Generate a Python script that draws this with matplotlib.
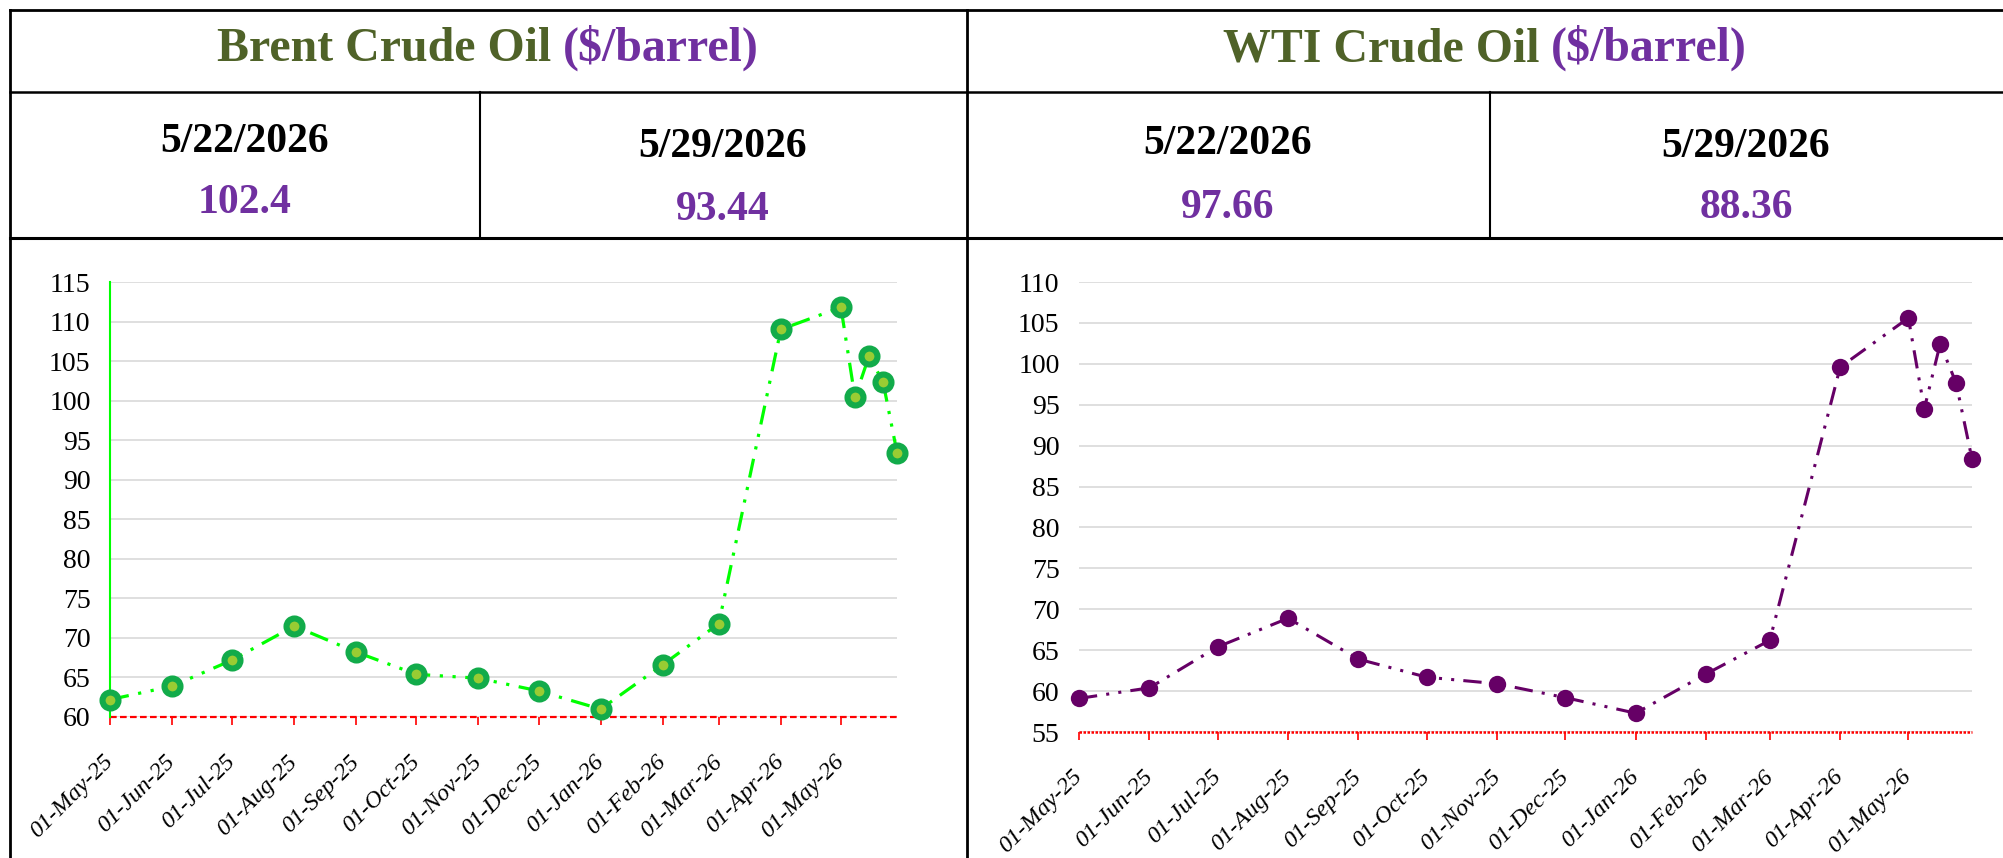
import matplotlib
matplotlib.use("Agg")
import matplotlib.pyplot as plt
import matplotlib.dates as mdates
from matplotlib.lines import Line2D
import pandas as pd

plt.rcParams['font.family'] = ['Liberation Serif', 'DejaVu Serif']

# data
dates = pd.to_datetime([
    "2025-05-01", "2025-06-01", "2025-07-01", "2025-08-01", "2025-09-01",
    "2025-10-01", "2025-11-01", "2025-12-01", "2026-01-01", "2026-02-01",
    "2026-03-01", "2026-04-01", "2026-05-01", "2026-05-08", "2026-05-15",
    "2026-05-22", "2026-05-29",
])
brent = [62.2, 63.9, 67.2, 71.5, 68.2, 65.4, 64.9, 63.3, 61.0, 66.6,
         71.8, 109.0, 111.8, 100.4, 105.6, 102.4, 93.44]
wti = [59.1, 60.4, 65.4, 68.9, 63.9, 61.7, 60.9, 59.2, 57.3, 62.1,
       66.2, 99.6, 105.6, 94.5, 102.45, 97.66, 88.36]

tick_dates = pd.date_range("2025-05-01", "2026-05-01", freq="MS")

header_dates = ["5/22/2026", "5/29/2026"]
brent_vals = ["102.4", "93.44"]
wti_vals = ["97.66", "88.36"]

W, H = 2003, 858
fig = plt.figure(figsize=(W / 100, H / 100), dpi=100)
fig.patch.set_facecolor("white")

def fx(x):
    return x / W

def fy(y):
    return 1 - y / H

def hline(y, x0, x1, lw=2.0):
    fig.add_artist(Line2D([fx(x0), fx(x1)], [fy(y), fy(y)], color="black", lw=lw,
                          transform=fig.transFigure))

def vline(x, y0, y1, lw=2.0):
    fig.add_artist(Line2D([fx(x), fx(x)], [fy(y0), fy(y1)], color="black", lw=lw,
                          transform=fig.transFigure))

# table frame
hline(10, 10, W, 2.0)
hline(92, 10, W, 1.8)
hline(238, 10, W, 2.2)
vline(10, 10, H, 2.0)
vline(967, 10, H, 2.0)
vline(480, 92, 238, 1.5)
vline(1490, 92, 238, 1.5)

OLIVE = "#4F6228"
PURPLE = "#7030A0"

renderer = fig.canvas.get_renderer()

def two_color_title(cx, base, left, right):
    t1 = fig.text(0, fy(base), left, color=OLIVE, fontsize=34.5, fontweight="bold",
                  va="baseline", ha="left")
    t2 = fig.text(0, fy(base), right, color=PURPLE, fontsize=34.5, fontweight="bold",
                  va="baseline", ha="left")
    w1 = t1.get_window_extent(renderer).width
    w2 = t2.get_window_extent(renderer).width
    gap = 12
    x0 = cx - (w1 + gap + w2) / 2
    t1.set_x(fx(x0))
    t2.set_x(fx(x0 + w1 + gap))

two_color_title(488, 61, "Brent Crude Oil", "($/barrel)")
two_color_title(1485, 61, "WTI Crude Oil", "($/barrel)")

def cell(cx, yd, yv, d, v):
    fig.text(fx(cx), fy(yd), d, fontsize=30, fontweight="bold", color="black",
             ha="center", va="baseline")
    fig.text(fx(cx), fy(yv), v, fontsize=30, fontweight="bold", color=PURPLE,
             ha="center", va="baseline")

cell(245, 152, 213, header_dates[0], brent_vals[0])
cell(723, 157, 220, header_dates[1], brent_vals[1])
cell(1228, 154, 218, header_dates[0], wti_vals[0])
cell(1746, 157, 218, header_dates[1], wti_vals[1])

ls_dd = (0, (6, 3, 1, 3, 1, 3))

def setup_axes(ax, ymin, ymax):
    ax.set_xlim(dates[0], dates[-1])
    ax.set_ylim(ymin, ymax)
    ax.set_yticks(range(ymin, ymax + 1, 5))
    ax.set_xticks(tick_dates)
    ax.xaxis.set_major_formatter(mdates.DateFormatter("%d-%b-%y"))
    ax.yaxis.grid(True, color="#D9D9D9", lw=1.2)
    ax.set_axisbelow(True)
    for s in ["top", "right", "bottom", "left"]:
        ax.spines[s].set_visible(False)
    ax.tick_params(axis="y", length=0, pad=14, labelsize=20)
    ax.tick_params(axis="x", length=6, width=1.2, color="red", labelcolor="black",
                   pad=24, labelsize=17.5)
    for lab in ax.get_xticklabels():
        lab.set_rotation(45)
        lab.set_ha("right")
        lab.set_va("center")
        lab.set_rotation_mode("anchor")
        lab.set_fontstyle("italic")

# Brent
ax1 = fig.add_axes([fx(110), fy(717), (897 - 110) / W, (717 - 282) / H])
setup_axes(ax1, 60, 115)
ax1.spines["left"].set_visible(True)
ax1.spines["left"].set_color("#00FF00")
ax1.spines["left"].set_linewidth(1.5)
ax1.axhline(60, color="red", ls=(0, (3, 1.5)), lw=1.6, clip_on=False)
ax1.plot(dates, brent, color="#00FF00", lw=2.3, ls=ls_dd, marker="o", ms=11.5,
         mew=4.4, mec="#12AB4A", mfc="#99CC33", clip_on=False, zorder=5)

# WTI
ax2 = fig.add_axes([fx(1079), fy(732), (1972 - 1079) / W, (732 - 282) / H])
setup_axes(ax2, 55, 110)
ax2.axhline(55, color="red", ls=(0, (1, 0.6)), lw=1.8, clip_on=False)
ax2.plot(dates, wti, color="#660066", lw=2.2, ls=ls_dd, marker="o", ms=12.5,
         mew=0, mfc="#660066", clip_on=False, zorder=5)

fig.savefig("out.png", dpi=100)
